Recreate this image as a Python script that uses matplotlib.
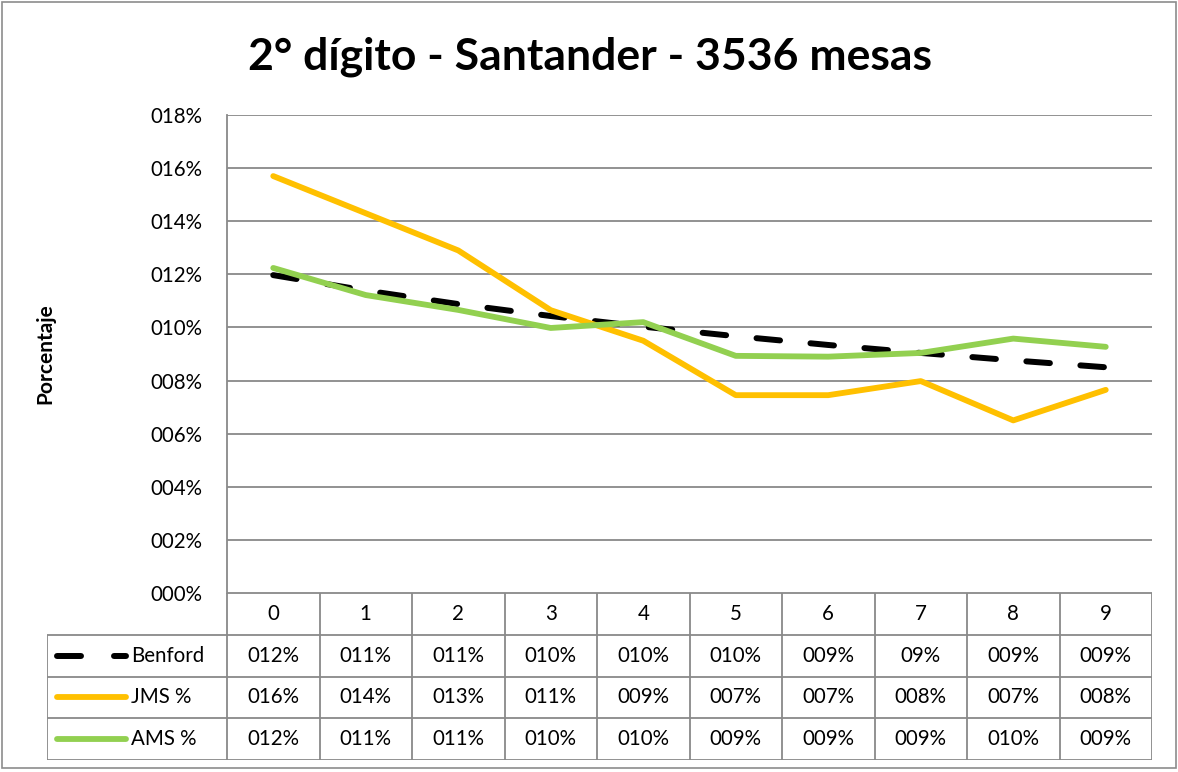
import matplotlib.pyplot as plt
from matplotlib.lines import Line2D
from matplotlib.patches import Rectangle
import numpy as np

plt.rcParams['font.family'] = ['Lato', 'DejaVu Sans']
plt.rcParams['lines.scale_dashes'] = False

digits = ["0", "1", "2", "3", "4", "5", "6", "7", "8", "9"]
benford = [11.97, 11.39, 10.88, 10.43, 10.03, 9.67, 9.34, 9.04, 8.76, 8.50]
jms = [15.7, 14.3, 12.9, 10.65, 9.5, 7.45, 7.45, 7.98, 6.5, 7.65]
ams = [12.24, 11.22, 10.66, 9.98, 10.2, 8.93, 8.9, 9.04, 9.58, 9.27]

# texto de la tabla de datos tal como lo muestra el formato de celda
benford_txt = ["012%", "011%", "011%", "010%", "010%", "010%", "009%", "09%", "009%", "009%"]
jms_txt = ["016%", "014%", "013%", "011%", "009%", "007%", "007%", "008%", "007%", "008%"]
ams_txt = ["012%", "011%", "011%", "010%", "010%", "009%", "009%", "009%", "010%", "009%"]

yticks = np.arange(0, 19, 2)
ytick_labels = [f"{v:03d}%" for v in yticks]

W, H = 1178, 772
fig = plt.figure(figsize=(W / 100, H / 100), dpi=100)

def fx(px):
    return px / W

def fy(py):
    return 1 - py / H

grid_c = "#898989"
yellow = "#FFC000"
green = "#92D050"
fs = 14.8

# marco exterior
fig.add_artist(Rectangle((fx(2), fy(768)), fx(1174), 766 / H, transform=fig.transFigure,
                         fill=False, edgecolor="#8c8c8c", lw=1.2))

# área del gráfico
left, right, top, bottom = 227, 1152, 115, 593
ax = fig.add_axes([fx(left), fy(bottom), fx(right - left), (bottom - top) / H])
x = np.arange(len(digits))
ax.plot(x, benford, color="black", lw=4.3, linestyle=(0, (17, 22)),
        dash_capstyle="round", solid_capstyle="round", zorder=3)
ax.plot(x, jms, color=yellow, lw=4.2, solid_capstyle="round", zorder=4)
ax.plot(x, ams, color=green, lw=4.2, solid_capstyle="round", zorder=5)
ax.set_xlim(-0.5, 9.5)
ax.set_ylim(0, 18)
ax.set_yticks(yticks)
ax.set_yticklabels(ytick_labels, fontsize=fs)
ax.set_xticks([])
ax.tick_params(axis="y", length=0, pad=18)
ax.grid(axis="y", color=grid_c, lw=1.3)
ax.set_axisbelow(True)
for s in ["top", "right", "bottom"]:
    ax.spines[s].set_visible(False)
ax.spines["left"].set_color(grid_c)
ax.spines["left"].set_linewidth(1.3)

fig.text(fx(45), fy(354), "Porcentaje", rotation=90, ha="center", va="center",
         fontsize=15, fontweight="bold")
fig.text(fx(590), fy(57), "2° dígito - Santander - 3536 mesas", ha="center", va="center",
         fontsize=32, fontweight="bold")

# tabla de datos bajo el eje
tleft, tbottom = 47, 760
tax = fig.add_axes([fx(tleft), fy(tbottom), fx(right - tleft), (tbottom - bottom) / H])
col_w = (right - left) / 10
x0 = -0.5 - (left - tleft) / col_w
tax.set_xlim(x0, 9.5)
tax.set_ylim(4, 0)
tax.axis("off")

lk = dict(color=grid_c, lw=1.3, solid_capstyle="butt")
for r in range(0, 5):
    xs = -0.5 if r == 0 else x0
    tax.plot([xs, 9.5], [r, r], **lk)
for c in range(11):
    tax.plot([c - 0.5, c - 0.5], [0, 4], **lk)
tax.plot([x0, x0], [1, 4], **lk)

for i, d in enumerate(digits):
    tax.text(i, 0.5, d, ha="center", va="center", fontsize=fs)

rows = [("Benford", benford_txt), ("JMS %", jms_txt), ("AMS %", ams_txt)]
for r, (name, vals) in enumerate(rows, start=1):
    for i, v in enumerate(vals):
        tax.text(i, r + 0.5, v, ha="center", va="center", fontsize=fs)
    tax.text(x0 + (131 - tleft) / col_w, r + 0.5, name, ha="left", va="center", fontsize=fs)

ls = x0 + (57 - tleft) / col_w
le = x0 + (126 - tleft) / col_w
tax.add_line(Line2D([ls, x0 + (81 - tleft) / col_w], [1.5, 1.5], color="black", lw=4.3,
                    solid_capstyle="round"))
tax.add_line(Line2D([x0 + (114 - tleft) / col_w, le], [1.5, 1.5], color="black", lw=4.3,
                    solid_capstyle="round"))
tax.add_line(Line2D([ls, le], [2.5, 2.5], color=yellow, lw=4.2, solid_capstyle="round"))
tax.add_line(Line2D([ls, le], [3.5, 3.5], color=green, lw=4.2, solid_capstyle="round"))

fig.savefig("out.png", dpi=100)
